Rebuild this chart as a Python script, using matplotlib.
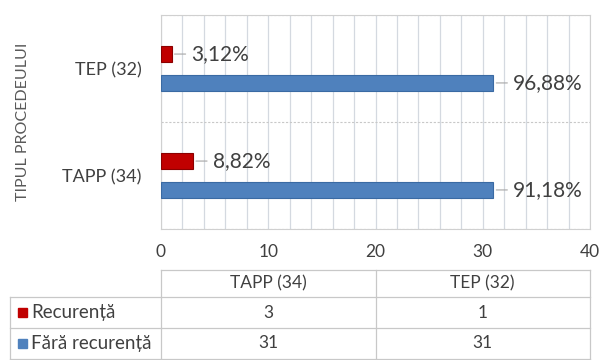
import matplotlib
matplotlib.use("Agg")
import matplotlib.pyplot as plt
from matplotlib.ticker import MultipleLocator

plt.rcParams["font.family"] = ["Lato", "Noto Sans", "DejaVu Sans"]

# categories bottom -> top on the y axis
categories = ["TAPP (34)", "TEP (32)"]
recurenta = [3, 1]
fara_recurenta = [31, 31]
series_names = ["Recurență", "Fără recurență"]
x_ticks = [0, 10, 20, 30, 40]

RED = "#C00000"
BLUE = "#4F81BD"
TEXT = "#404040"
GRID = "#D4D9E0"

W, H = 599, 360
fig = plt.figure(figsize=(W / 100, H / 100), dpi=100)

# plot area in pixels: left, top, right, bottom
pl, pt, pr, pb = 161, 15, 590, 229
ax = fig.add_axes([pl / W, 1 - pb / H, (pr - pl) / W, (pb - pt) / H])
ax.set_axisbelow(True)

ypos = list(range(len(categories)))
off, bh = 0.135, 0.155
ax.barh([y + off for y in ypos], recurenta, height=bh, color=RED,
        edgecolor="#8B0000", linewidth=0.8, zorder=3)
ax.barh([y - off for y in ypos], fara_recurenta, height=bh, color=BLUE,
        edgecolor="#3A6AA3", linewidth=0.8, zorder=3)

totals = [a + b for a, b in zip(recurenta, fara_recurenta)]


def pct(v, t):
    return f"{v / t * 100:.2f}".replace(".", ",") + "%"


for y, r, f, t in zip(ypos, recurenta, fara_recurenta, totals):
    for val, yy in ((r, y + off), (f, y - off)):
        ax.annotate(pct(val, t), xy=(val, yy), xytext=(14, 0),
                    textcoords="offset points", va="center", ha="left",
                    fontsize=15, color=TEXT,
                    arrowprops=dict(arrowstyle="-", color="#A6A6A6", lw=0.8,
                                    shrinkA=2, shrinkB=2))

ax.set_xlim(0, 40)
ax.set_ylim(-0.5, len(categories) - 0.5)
ax.set_xticks(x_ticks)
ax.xaxis.set_minor_locator(MultipleLocator(2))
ax.set_yticks(ypos)
ax.set_yticklabels(categories)
ax.tick_params(axis="both", which="both", length=0)
ax.tick_params(axis="x", labelsize=12.5, colors=TEXT, pad=11)
ax.tick_params(axis="y", labelsize=13, colors=TEXT, pad=14)

ax.grid(axis="x", which="both", color=GRID, lw=0.9)
for b in [-0.5, 0.5, 1.5]:
    ax.axhline(b, color="#C8C8C8", lw=0.8, ls=(0, (2, 1.5)), zorder=1)
for s in ax.spines.values():
    s.set_color("#D0D0D0")
    s.set_linewidth(0.8)

ax.set_ylabel("TIPUL PROCEDEULUI", fontsize=11.5, color="#595959")
ax.yaxis.set_label_coords(-(pl - 30) / (pr - pl), 0.5)

# data table under the plot, drawn in pixel coordinates
tab = fig.add_axes([0, 0, 1, 1], zorder=-1)
tab.set_xlim(0, W)
tab.set_ylim(H, 0)
tab.axis("off")

col_x = [10, pl, (pl + pr) / 2, pr]
row_y = [270, 297, 328, 359]
line = dict(color="#C8C8C8", lw=0.9)

tab.plot([col_x[1], col_x[3]], [row_y[0], row_y[0]], **line)
for yy in row_y[1:]:
    tab.plot([col_x[0], col_x[3]], [yy, yy], **line)
tab.plot([col_x[0], col_x[0]], [row_y[1], row_y[3]], **line)
for xx in col_x[1:]:
    tab.plot([xx, xx], [row_y[0], row_y[3]], **line)

for i, name in enumerate(categories):
    cx = (col_x[i + 1] + col_x[i + 2]) / 2
    tab.text(cx, (row_y[0] + row_y[1]) / 2, name, ha="center", va="center",
             fontsize=12.5, color=TEXT)

rows = [recurenta, fara_recurenta]
for j, (label, vals, c) in enumerate(zip(series_names, rows, [RED, BLUE])):
    cy = (row_y[j + 1] + row_y[j + 2]) / 2
    tab.add_patch(plt.Rectangle((18, cy - 5), 9, 9, color=c))
    tab.text(31, cy, label, ha="left", va="center", fontsize=13.5,
             color=TEXT)
    for i, v in enumerate(vals):
        cx = (col_x[i + 1] + col_x[i + 2]) / 2
        tab.text(cx, cy, str(v), ha="center", va="center", fontsize=12.5,
                 color=TEXT)

fig.savefig("out.png", dpi=100)
